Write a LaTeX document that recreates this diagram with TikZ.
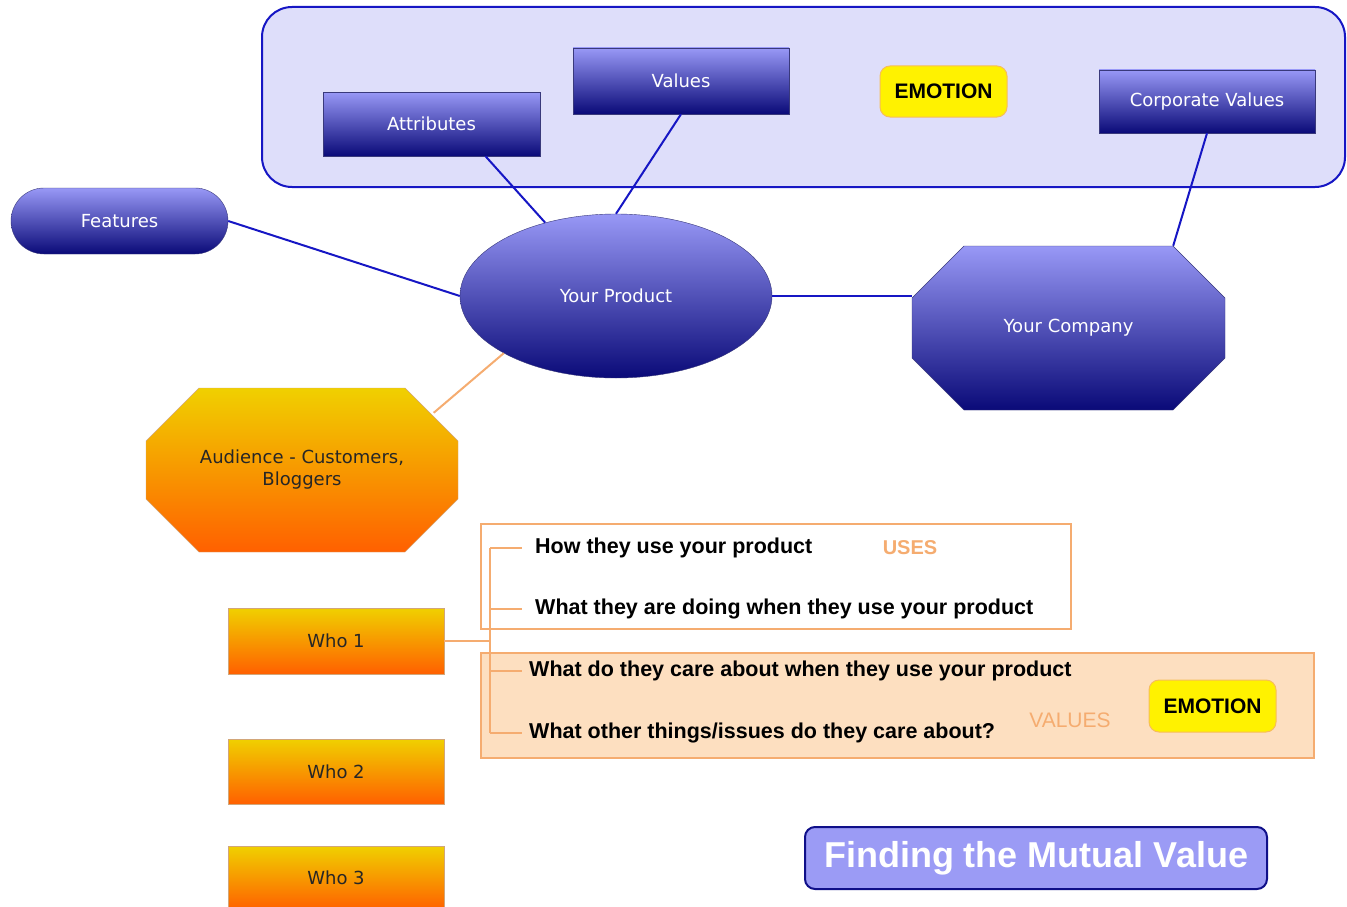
\documentclass[tikz,border=0pt]{standalone}
\usepackage{fontspec}
\setmainfont{Liberation Sans}
\newfontfamily\boxfont{DejaVu Sans}
\usetikzlibrary{shapes.geometric,calc}
\definecolor{mapblue}{RGB}{22,22,196}
\definecolor{mapnavy}{RGB}{10,10,120}
\definecolor{mapsky}{RGB}{152,152,246}
\definecolor{maplilac}{RGB}{222,222,250}
\definecolor{mapgold}{RGB}{240,208,0}
\definecolor{maporange}{RGB}{255,96,0}
\definecolor{mapline}{RGB}{245,172,112}
\definecolor{mappeach}{RGB}{253,223,192}
\definecolor{mapbadge}{RGB}{155,155,245}

\begin{document}
\begin{tikzpicture}[
      x=1pt,y=-1pt,
      bluebox/.style={draw=mapnavy!60!gray, thin, top color=mapsky, bottom color=mapnavy,
        text=white, font=\boxfont\fontsize{18}{21}\selectfont, inner sep=0pt},
      orangebox/.style={draw=brown!70, thin, top color=mapgold, bottom color=maporange,
        text=black!85, font=\boxfont\fontsize{18}{22}\selectfont, align=center, inner sep=0pt},
      octotext/.style={inner sep=0pt, align=center, minimum width=313pt, minimum height=164pt},
      link/.style={draw=mapblue, line width=2pt},
      twig/.style={draw=mapline, line width=2pt},
      emotion/.style={draw=mapline!80!yellow, line width=1pt, fill=yellow, rounded corners=10pt,
        font=\bfseries\fontsize{21}{24}\selectfont, minimum width=127pt, minimum height=51pt},
      question/.style={anchor=west, inner xsep=13pt, font=\bfseries\fontsize{21.5}{25}\selectfont},
      tag/.style={text=mapline, font=\bfseries\fontsize{20}{24}\selectfont}
    ]
      \useasboundingbox (0,0) rectangle (1347,907);
      % frames
      \draw[draw=mapblue, line width=2pt, fill=maplilac, rounded corners=30pt] (262,7) rectangle (1345,187);
      \draw[draw=mapline, line width=2pt, fill=white] (481,524) rectangle (1071,629);
      \draw[draw=mapline, line width=2pt, fill=mappeach] (481,653) rectangle (1314,758);
      % product side
      \node[bluebox, minimum width=217pt, minimum height=64pt] (attr) at (431.5,124) {Attributes};
      \node[bluebox, minimum width=216pt, minimum height=66pt] (vals) at (681,81) {Values};
      \node[emotion] (emo1) at (943.5,91.5) {EMOTION};
      \node[bluebox, minimum width=216pt, minimum height=63pt] (corp) at (1207,101.5) {Corporate Values};
      \node[bluebox, rounded corners=33pt, minimum width=217pt, minimum height=66pt] (feat) at (119.5,221) {Features};
      \node[bluebox, ellipse, minimum width=312pt, minimum height=164pt] (prod) at (616,296) {Your Product};
      \draw[bluebox] (964,246) -- (1173,246) -- (1225,298) -- (1225,358) -- (1173,410) -- (964,410) -- (912,358) -- (912,298) -- cycle;
      \node[octotext, text=white, font=\boxfont\fontsize{18}{21}\selectfont] (comp) at (1068.5,328) {Your Company};
      % audience side
      \draw[orangebox] (199,388) -- (405,388) -- (458,441) -- (458,499) -- (405,552) -- (199,552) -- (146,499) -- (146,441) -- cycle;
      \node[octotext, text=black!85, font=\boxfont\fontsize{18}{22}\selectfont] (aud) at (302,470) {Audience - Customers,\\Bloggers};
      \node[orangebox, minimum width=216pt, minimum height=66pt] (who1) at (336,641) {Who 1};
      \node[orangebox, minimum width=216pt, minimum height=65pt] (who2) at (336,771.5) {Who 2};
      \node[orangebox, minimum width=216pt, minimum height=64pt] (who3) at (336,878) {Who 3};
      \node[question] (q1) at (522,548) {How they use your product};
      \node[question] (q2) at (522,609) {What they are doing when they use your product};
      \node[question, inner xsep=7pt] (q3) at (522,671) {What do they care about when they use your product};
      \node[question, inner xsep=7pt] (q4) at (522,733) {What other things/issues do they care about?};
      \node[tag] (uses) at (910,548) {USES};
      \node[tag, font=\fontsize{21}{24}\selectfont] (vtag) at (1070,720) {VALUES};
      \node[emotion, minimum height=52pt] (emo2) at (1212.5,706) {EMOTION};
      \node[draw=mapblue!70!black, line width=2pt, fill=mapbadge, rounded corners=10pt, text=white,
        minimum width=462pt, minimum height=62pt, font=\bfseries\fontsize{36}{40}\selectfont] (title) at (1036,858) {Finding the Mutual Value};
      % links
      \draw[link] (feat.east) -- (prod.west);
      \draw[link] ([xshift=54pt]attr.south) -- (prod.134);
      \draw[link] (vals.south) -- (prod.north);
      \draw[link] (corp.south) -- ([xshift=-52pt]comp.north east);
      \draw[link] (prod.east) -- (prod.east -| comp.west);
      \draw[twig] (prod.207) -- ([shift={(-25pt,-25pt)}]aud.north east);
      \coordinate (trunk) at (490,641);
      \draw[twig] (who1.east) -- (trunk);
      \draw[twig] (q1.west -| trunk) -- (q4.west -| trunk);
      \foreach \q in {q1,q2,q3,q4} \draw[twig] (\q.west -| trunk) -- (\q.west);
    \end{tikzpicture}
\end{document}
